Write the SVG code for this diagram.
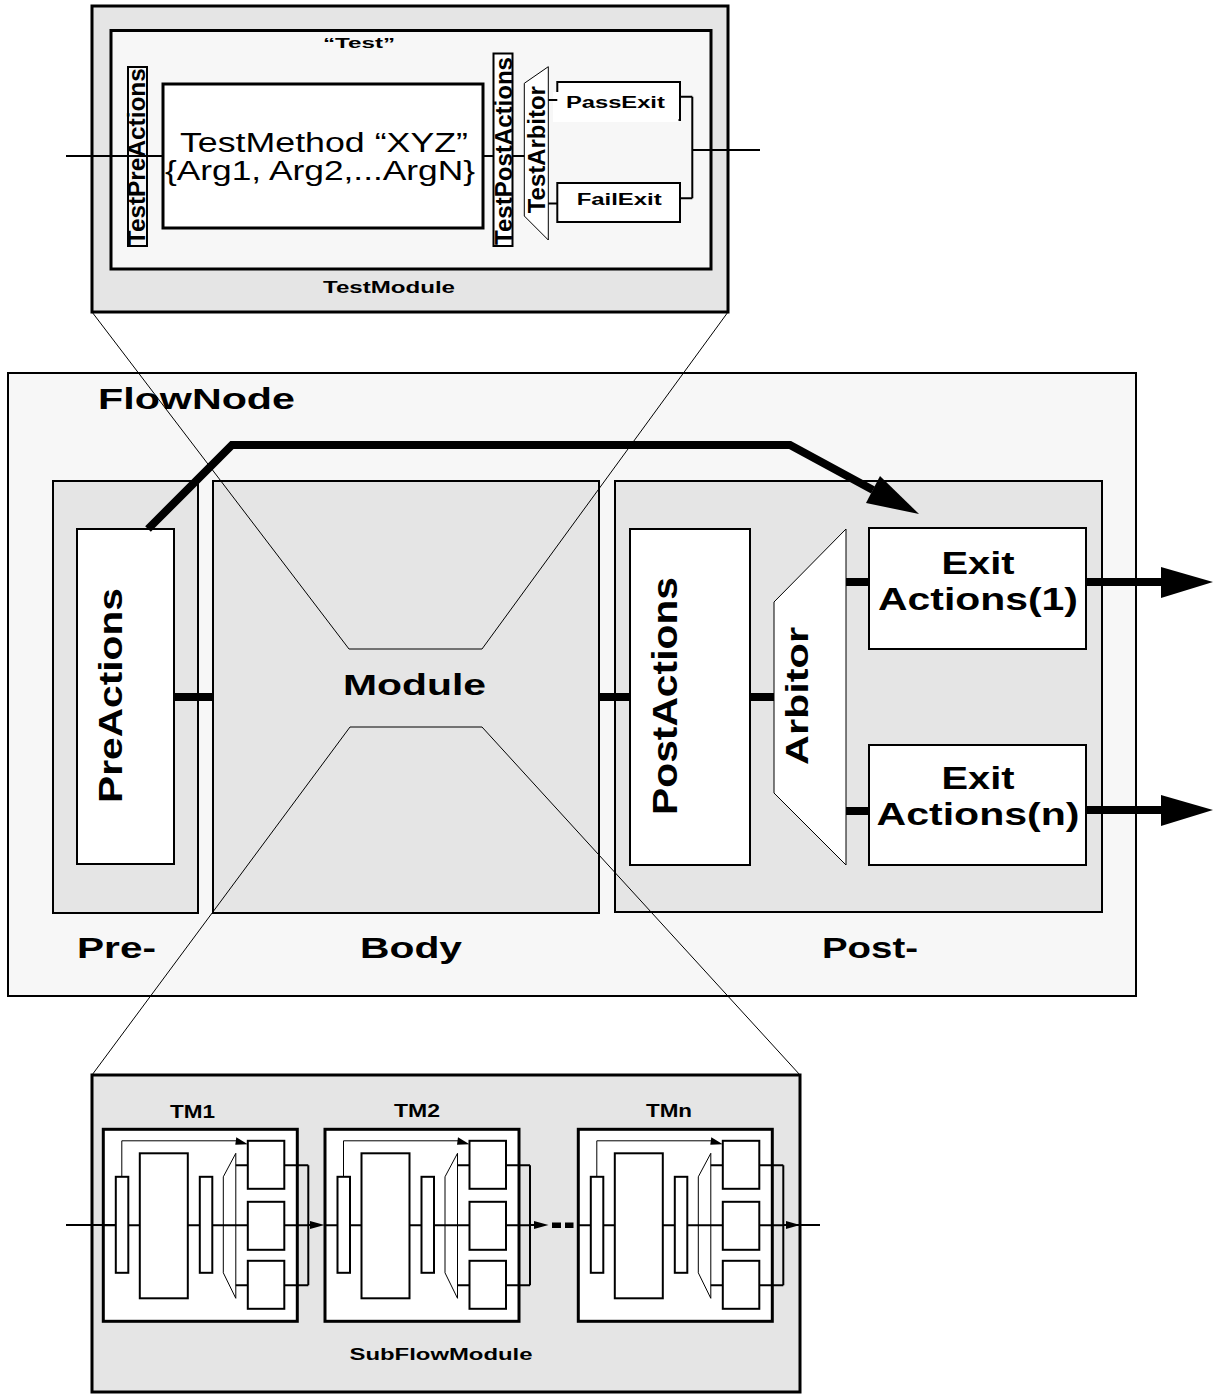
<svg xmlns="http://www.w3.org/2000/svg" width="1213" height="1394" viewBox="0 0 1213 1394">
<style>
text{font-family:"Liberation Sans",Arial,sans-serif;fill:#000;font-weight:bold;text-anchor:middle}
.n{font-weight:normal}
.g{fill:#e5e5e5;stroke:#000}
.l{fill:#f7f7f7;stroke:#000}
.w{fill:#fff;stroke:#000}
.thick{stroke:#000;stroke-width:8;fill:none}
.thin{stroke:#000;stroke-width:1;fill:none}
.c2{stroke:#000;stroke-width:2;fill:none}
</style>
<defs>
<g id="tm">
<rect x="0" y="0" width="194" height="192" fill="#fff" stroke="#000" stroke-width="3"/>
<path d="M0 96H12.5M25 96H36.5M84.5 96H96.5M109 96H144.5M132.5 36H144.5M132.5 156H144.5M181 36H205M181 156H205M181 96H205M205 36V156" class="c2"/>
<path d="M18.5 47.5V11.5H134" class="thin"/>
<polygon points="133,8 144.5,15 132,15.5" fill="#000"/>
<rect x="12.5" y="47.5" width="12.5" height="96" class="w" stroke-width="2"/>
<rect x="36.5" y="24" width="48" height="145" class="w" stroke-width="2"/>
<rect x="96.5" y="47.5" width="12.5" height="96" class="w" stroke-width="2"/>
<polygon points="120,47.5 132.5,24 132.5,169 120,143.5" class="thin"/>
<rect x="144.5" y="11.5" width="36.5" height="48" class="w" stroke-width="2"/>
<rect x="144.5" y="72.5" width="36.5" height="48" class="w" stroke-width="2"/>
<rect x="144.5" y="131.5" width="36.5" height="48" class="w" stroke-width="2"/>
</g>
</defs>

<g id="flownode">
<rect x="8" y="373" width="1128" height="623" class="l" stroke-width="2"/>
<text x="196.5" y="409" font-size="30" textLength="197" lengthAdjust="spacingAndGlyphs">FlowNode</text>
<text x="116.5" y="958" font-size="30" textLength="79" lengthAdjust="spacingAndGlyphs">Pre-</text>
<text x="411" y="958" font-size="30" textLength="102" lengthAdjust="spacingAndGlyphs">Body</text>
<text x="870" y="958" font-size="30" textLength="96" lengthAdjust="spacingAndGlyphs">Post-</text>
</g>
<g id="pre-section"><rect x="53" y="481" width="145" height="432" class="g" stroke-width="2"/></g>
<g id="body-module">
<rect x="213" y="481" width="386" height="432" class="g" stroke-width="2"/>
<text x="414.5" y="695" font-size="30" textLength="143" lengthAdjust="spacingAndGlyphs">Module</text>
</g>
<g id="post-section"><rect x="615" y="481" width="487" height="431" class="g" stroke-width="2"/></g>
<g id="preactions">
<rect x="77" y="529" width="97" height="335" class="w" stroke-width="2"/>
<text x="122" y="695.5" font-size="33" textLength="215" lengthAdjust="spacingAndGlyphs" transform="rotate(-90 122 695.5)">PreActions</text>
</g>
<g id="postactions">
<rect x="630" y="529" width="120" height="336" class="w" stroke-width="2"/>
<text x="677" y="696" font-size="35" textLength="238" lengthAdjust="spacingAndGlyphs" transform="rotate(-90 677 696)">PostActions</text>
</g>
<g id="arbitor">
<polygon points="774,602 846,529 846,865 774,793" class="w" stroke-width="1"/>
<text x="808" y="696" font-size="32" textLength="138" lengthAdjust="spacingAndGlyphs" transform="rotate(-90 808 696)">Arbitor</text>
</g>
<g id="exit1">
<rect x="869" y="528" width="217" height="121" class="w" stroke-width="2"/>
<text x="978" y="574" font-size="31" textLength="73" lengthAdjust="spacingAndGlyphs">Exit</text>
<text x="978" y="610" font-size="31" textLength="200" lengthAdjust="spacingAndGlyphs">Actions(1)</text>
</g>
<g id="exitn">
<rect x="869" y="745" width="217" height="120" class="w" stroke-width="2"/>
<text x="978" y="789" font-size="31" textLength="73" lengthAdjust="spacingAndGlyphs">Exit</text>
<text x="978" y="825" font-size="31" textLength="203" lengthAdjust="spacingAndGlyphs">Actions(n)</text>
</g>

<g id="testmodule">
<rect x="92" y="6" width="636" height="306" class="g" stroke-width="3"/>
<rect x="111" y="30.5" width="600" height="238.5" class="l" stroke-width="3"/>
<text x="359" y="48" font-size="15" textLength="72" lengthAdjust="spacingAndGlyphs">“Test”</text>
<text x="389" y="293" font-size="16" textLength="132" lengthAdjust="spacingAndGlyphs">TestModule</text>
</g>
<g id="testmethod">
<rect x="163" y="84" width="320" height="144" class="w" stroke-width="3"/>
<text class="n" x="324" y="151.7" font-size="27" textLength="288" lengthAdjust="spacingAndGlyphs">TestMethod “XYZ”</text>
<text class="n" x="320" y="180" font-size="27" textLength="310" lengthAdjust="spacingAndGlyphs">{Arg1, Arg2,...ArgN}</text>
</g>
<g id="testpreactions">
<rect x="128" y="67" width="19" height="179" fill="none" stroke="#000" stroke-width="2"/>
<text x="145" y="156.7" font-size="23" textLength="177" lengthAdjust="spacingAndGlyphs" transform="rotate(-90 145 156.7)">TestPreActions</text>
</g>
<g id="testpostactions">
<rect x="493.5" y="53.5" width="19" height="192.5" class="w" stroke-width="2"/>
<text x="511.7" y="151" font-size="24" textLength="188" lengthAdjust="spacingAndGlyphs" transform="rotate(-90 511.7 151)">TestPostActions</text>
</g>
<g id="testarbitor">
<polygon points="524.3,83.3 548.3,66.7 548.3,240 524.3,216" class="w" stroke-width="1"/>
<text x="545" y="149.7" font-size="23" textLength="127" lengthAdjust="spacingAndGlyphs" transform="rotate(-90 545 149.7)">TestArbitor</text>
</g>
<g id="passexit">
<rect x="557.3" y="82" width="122.7" height="38" class="w" stroke-width="2"/>
<rect x="553" y="92" width="125.5" height="30" fill="#fff"/>
<text x="615.4" y="108.3" font-size="16" textLength="99" lengthAdjust="spacingAndGlyphs">PassExit</text>
</g>
<g id="failexit">
<rect x="557.3" y="183" width="122.7" height="39" class="w" stroke-width="2"/>
<rect x="559" y="192" width="118" height="14" fill="#fff"/>
<text x="619.2" y="205" font-size="16" textLength="85" lengthAdjust="spacingAndGlyphs">FailExit</text>
</g>

<g id="subflowmodule">
<rect x="92" y="1075" width="708" height="317" class="g" stroke-width="3"/>
<text x="441" y="1360" font-size="16" textLength="183" lengthAdjust="spacingAndGlyphs">SubFlowModule</text>
</g>
<g id="tm1">
<text x="192.5" y="1118" font-size="18" textLength="45" lengthAdjust="spacingAndGlyphs">TM1</text>
<use href="#tm" transform="translate(103.3 1129.3)"/>
</g>
<g id="tm2">
<text x="417" y="1117" font-size="18" textLength="46" lengthAdjust="spacingAndGlyphs">TM2</text>
<use href="#tm" transform="translate(325 1129.3)"/>
</g>
<g id="tmn">
<text x="669" y="1117" font-size="18" textLength="46" lengthAdjust="spacingAndGlyphs">TMn</text>
<use href="#tm" transform="translate(578.3 1129.3)"/>
</g>

<g id="zoom-lines" stroke="#000" stroke-width="1" fill="none">
<polyline points="92,312 349,649 482,649 728,312"/>
<polyline points="92,1075 350,727 482,727 800,1075"/>
</g>

<g id="connectors">
<polyline points="148,529 232,445 790,445 873,490" class="thick" stroke-linejoin="miter"/>
<polygon points="919,514 866,503 880,476" fill="#000"/>
<path d="M174 697H213M599 697H630M750 697H774M846 582H869M846 811H869" class="thick"/>
<path d="M1086 582H1162M1086 810H1162" class="thick"/>
<polygon points="1161,567 1213,582 1161,598" fill="#000"/>
<polygon points="1161,795 1213,810 1161,826" fill="#000"/>
<path d="M66 156H163M482.7 156H493.5M512.7 156H524.3M548.3 100H557.3M548.3 203.5H557.3M680 96.7H692.3M680 198.3H692.3M692.3 96.7V198.3M692.3 150H760" class="c2"/>
<path d="M66 1225H116M308.3 1225H312M530 1225H535M783.3 1225H820" class="c2"/>
<polygon points="310,1221 324.5,1225 310,1229" fill="#000"/>
<polygon points="534,1221 548.5,1225 534,1229" fill="#000"/>
<polygon points="786,1221 800,1225 786,1229" fill="#000"/>
<rect x="552" y="1222.5" width="9" height="5.5" fill="#000"/>
<rect x="565" y="1222.5" width="8.5" height="5.5" fill="#000"/>
</g>
</svg>
